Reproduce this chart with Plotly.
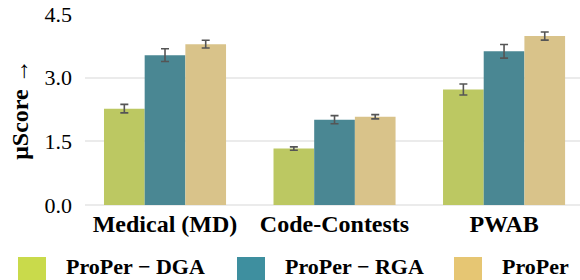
import plotly.graph_objects as go

categories = ["Medical (MD)", "Code-Contests", "PWAB"]
series_names = ["ProPer − DGA", "ProPer − RGA", "ProPer"]
dga = [2.27, 1.33, 2.72]
dga_err = [0.10, 0.04, 0.13]
rga = [3.53, 2.01, 3.62]
rga_err = [0.15, 0.095, 0.16]
proper = [3.79, 2.08, 3.98]
proper_err = [0.09, 0.05, 0.095]
y_ticks = [0.0, 1.5, 3.0, 4.5]

bar_colors = ["#bcc862", "#4a8793", "#d9c38a"]
legend_colors = ["#c9da4b", "#3e8f9f", "#e6c673"]

FONT = "Liberation Serif, Times New Roman, Tinos, DejaVu Serif, serif"

W, H = 580, 280
L, R, T, B = 85, 0, 14, 75
pw, ph = W - L - R, H - T - B

fig = go.Figure()
for name, vals, errs, col in zip(series_names, [dga, rga, proper],
                                  [dga_err, rga_err, proper_err], bar_colors):
    fig.add_trace(go.Bar(
        x=categories, y=vals, name=name, marker_color=col,
        marker_line_width=0, showlegend=False,
        error_y=dict(type="data", array=errs, color="#555555",
                     thickness=1.6, width=4),
    ))

def px(x):
    return (x - L) / pw

def py(y):
    return (H - B - y) / ph

sw_x = [18, 237, 454]
shapes = []
annots = []
for i, (name, col) in enumerate(zip(series_names, legend_colors)):
    shapes.append(dict(type="rect", xref="paper", yref="paper",
                       x0=px(sw_x[i]), x1=px(sw_x[i] + 28),
                       y0=py(257), y1=py(280),
                       fillcolor=col, line_width=0, layer="above"))
    annots.append(dict(xref="paper", yref="paper", x=px(sw_x[i] + 46), y=py(266),
                       text="<b>%s</b>" % name, showarrow=False,
                       xanchor="left", yanchor="middle",
                       font=dict(family=FONT, size=22, color="black")))

fig.update_layout(
    width=W, height=H,
    margin=dict(l=L, r=R, t=T, b=B, autoexpand=False),
    paper_bgcolor="white", plot_bgcolor="white",
    barmode="group", bargap=0.28, bargroupgap=0,
    font=dict(family=FONT, size=22, color="black"),
    shapes=shapes, annotations=annots,
    xaxis=dict(range=[-0.472, 2.448], showgrid=False, showline=False,
               ticks="", tickfont=dict(family=FONT, size=24),
               tickvals=[0, 1, 2], automargin=False, ticklabelstandoff=2,
               ticktext=["<b>%s</b>" % c for c in categories]),
    yaxis=dict(range=[0, 4.5], tickvals=y_ticks, tickformat=".1f",
               showgrid=True, gridcolor="#ebebeb", gridwidth=1.5,
               zeroline=True, zerolinecolor="#ebebeb", zerolinewidth=1.5,
               showline=False, ticks="", ticklabelstandoff=12, automargin=False,
               tickfont=dict(family=FONT, size=22),
               title=dict(text="<b>μScore</b> →", standoff=9,
                          font=dict(family=FONT, size=24))),
)

fig.write_html("out.html", config={"displayModeBar": False},
               post_script="document.body.style.margin='0';")
